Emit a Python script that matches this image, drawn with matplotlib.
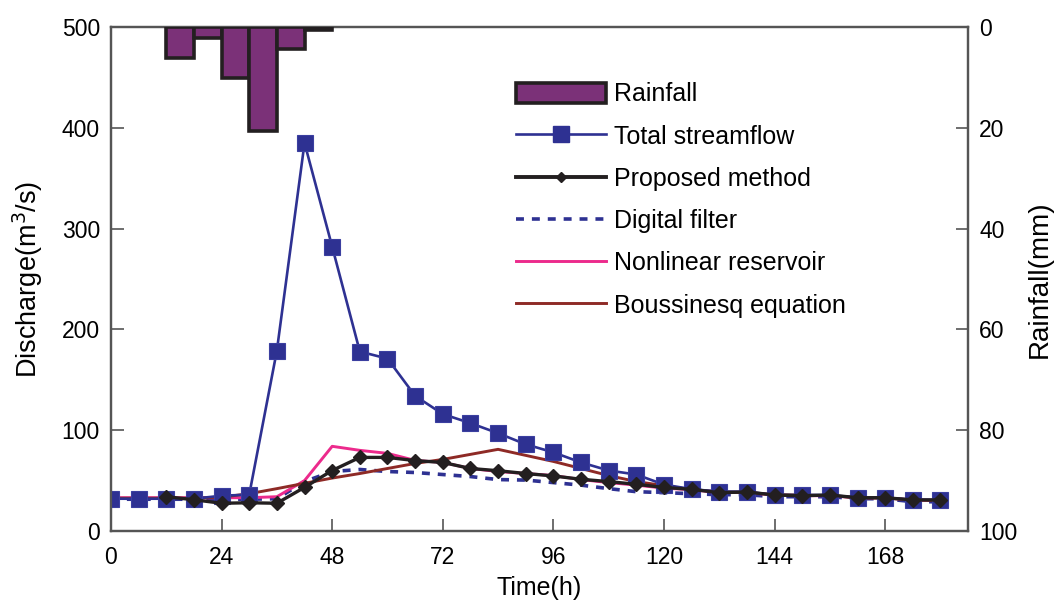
import matplotlib
matplotlib.use("Agg")
import matplotlib.pyplot as plt
from matplotlib.lines import Line2D
from matplotlib.patches import Patch

plt.rcParams['font.family'] = ['Liberation Sans', 'DejaVu Sans']

# Hourly time axis, sampled every 6 h
time_h = [0, 6, 12, 18, 24, 30, 36, 42, 48, 54, 60, 66, 72, 78, 84, 90, 96,
          102, 108, 114, 120, 126, 132, 138, 144, 150, 156, 162, 168, 174, 180]

total_streamflow = [32, 32, 32, 32, 35, 36, 179, 385, 282, 178, 171, 134, 116,
                    107, 97, 86, 78, 68, 60, 56, 46, 41.5, 39, 39, 35.7, 35.7,
                    35.7, 33, 33, 31, 31]

# Proposed method starts at 12 h
proposed_time = time_h[2:]
proposed_method = [34, 31, 27.5, 28, 27.5, 43.3, 60, 73, 73, 69.8, 68, 62,
                   59.8, 57, 54.6, 51.3, 49, 46.3, 43.2, 41.3, 38, 38.7, 35.7,
                   35, 35.7, 33, 33, 30.8, 30.8]

digital_filter = [31.5, 31.5, 31.5, 31.5, 31.5, 31.5, 32, 49, 59, 61, 59, 58,
                  56, 54, 51, 50.5, 48, 45.5, 42, 39, 38, 37, 36, 36, 34, 34,
                  34, 32, 32, 29, 29]

nonlinear_reservoir = [33, 33, 33, 33, 33, 33, 34, 50, 84, 80, 77, 70, 68, 62,
                       59, 57, 55, 51, 48, 45.5, 42.5, 41, 38, 38.5, 35.5, 35,
                       35, 33, 33, 30.5, 30.5]

boussinesq = [32.5, 32.5, 32.5, 32.5, 33.5, 37, 42, 47.3, 52.5, 57, 62, 67,
              71, 76, 81, 75, 69, 62, 55, 49, 45, 41, 39, 38, 36, 35.5, 35,
              33, 32.5, 31, 30]

# Rainfall blocks (left edge of each 6 h interval, depth in mm)
rain_start = [12, 18, 24, 30, 36, 42]
rainfall = [6.2, 2.1, 10.2, 20.6, 4.4, 0.5]

x_ticks = [0, 24, 48, 72, 96, 120, 144, 168]
q_ticks = [0, 100, 200, 300, 400, 500]
r_ticks = [0, 20, 40, 60, 80, 100]

navy = '#2e3192'
black = '#231f20'
pink = '#ec2a8c'
brown = '#8e2a26'
purple = '#7b3178'
spine_col = '#555555'

fig = plt.figure(figsize=(10.59, 6.06), dpi=100)
ax = fig.add_axes([0.1048, 0.1238, 0.8094, 0.8316])

ax.plot(time_h, digital_filter, color=navy, lw=2.6, ls=(0, (2.2, 2.2)), zorder=2)
ax.plot(time_h, nonlinear_reservoir, color=pink, lw=2.1, zorder=2)
ax.plot(time_h, boussinesq, color=brown, lw=2.1, zorder=2)
ax.plot(time_h, total_streamflow, color=navy, lw=1.9, marker='s', ms=11.5,
        mfc=navy, mec='#3b3fa0', mew=0.8, zorder=3)
ax.plot(proposed_time, proposed_method, color=black, lw=2.4, marker='D',
        ms=7.5, mfc=black, mec=black, zorder=4)

ax.set_xlim(0, 186)
ax.set_ylim(0, 500)
ax.set_xticks(x_ticks)
ax.set_yticks(q_ticks)
ax.tick_params(axis='both', direction='in', length=9, width=1.2,
               color=spine_col, labelsize=16.5, pad=8)
ax.tick_params(axis='x', pad=11)
ax.set_xlabel('Time(h)', fontsize=18, labelpad=5)
ax.set_ylabel('Discharge(m$^3$/s)', fontsize=19.5, labelpad=12)

ax2 = ax.twinx()
ax2.bar(rain_start, rainfall, width=6, align='edge', color=purple,
        edgecolor=black, linewidth=2.6, zorder=3)
ax2.set_ylim(100, 0)
ax2.set_yticks(r_ticks)
ax2.tick_params(axis='y', direction='in', length=9, width=1.2,
                color=spine_col, labelsize=16.5, pad=8)
ax2.set_ylabel('Rainfall(mm)', fontsize=20, labelpad=7)

for a in (ax, ax2):
    for s in a.spines.values():
        s.set_color(spine_col)
        s.set_linewidth(1.6)

handles = [
    Patch(facecolor=purple, edgecolor=black, linewidth=2.6),
    Line2D([], [], color=navy, lw=1.9, marker='s', ms=11.5, mfc=navy, mec=navy),
    Line2D([], [], color=black, lw=2.8, marker='D', ms=5, mfc=black, mec=black),
    Line2D([], [], color=navy, lw=2.6, ls=(0, (2.2, 2.2))),
    Line2D([], [], color=pink, lw=2.1),
    Line2D([], [], color=brown, lw=2.1),
]
labels = ['Rainfall', 'Total streamflow', 'Proposed method', 'Digital filter',
          'Nonlinear reservoir', 'Boussinesq equation']
ax2.legend(handles, labels, loc='upper left', bbox_to_anchor=(0.472, 0.89),
           frameon=False, fontsize=18, handlelength=3.6, handleheight=0.85,
           handletextpad=0.32, labelspacing=0.73, borderpad=0, borderaxespad=0)

fig.savefig('out.png', dpi=100)
